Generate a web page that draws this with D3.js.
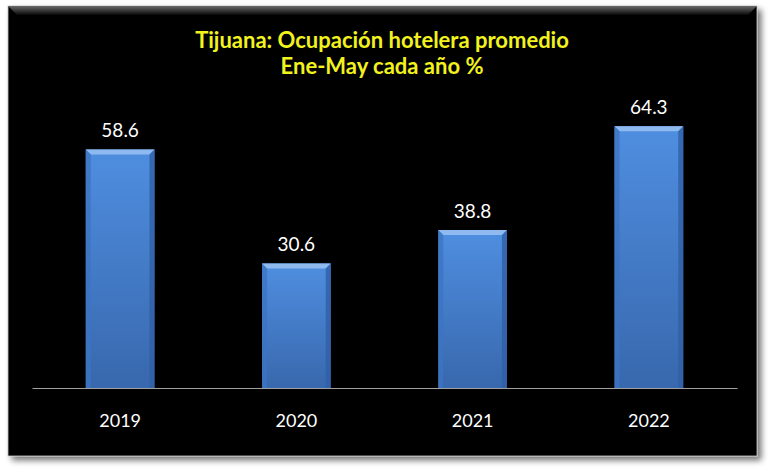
<!DOCTYPE html>
<html>
<head>
<meta charset="utf-8">
<script src="https://cdn.jsdelivr.net/npm/d3@7"></script>
<style>
  body { margin: 0; background: #ffffff; }
  svg { display: block; }
</style>
</head>
<body>
<svg id="chart"></svg>
<script>
// données du graphique
const years = ["2019", "2020", "2021", "2022"];
const occupancy = [58.6, 30.6, 38.8, 64.3];
const titleLines = ["Tijuana: Ocupación hotelera promedio", "Ene-May cada año %"];

const W = 768, H = 469;
const svg = d3.select("#chart").attr("width", W).attr("height", H);
const defs = svg.append("defs");

// ombre du cadre
const shadow = defs.append("filter").attr("id", "shadow")
    .attr("x", "-5%").attr("y", "-5%").attr("width", "115%").attr("height", "115%");
shadow.append("feGaussianBlur").attr("in", "SourceAlpha").attr("stdDeviation", 3);
shadow.append("feOffset").attr("dx", 4).attr("dy", 4).attr("result", "b");
shadow.append("feComponentTransfer").append("feFuncA").attr("type", "linear").attr("slope", 0.55);
const mrg = shadow.append("feMerge");
mrg.append("feMergeNode");
mrg.append("feMergeNode").attr("in", "SourceGraphic");

// dégradé biseau du haut du cadre
const topBevel = defs.append("linearGradient").attr("id", "topBevel")
    .attr("x1", 0).attr("y1", 0).attr("x2", 0).attr("y2", 1);
topBevel.append("stop").attr("offset", 0).attr("stop-color", "#6a6a6a");
topBevel.append("stop").attr("offset", 1).attr("stop-color", "#070707");

// dégradé des barres
const barGrad = defs.append("linearGradient").attr("id", "barGrad")
    .attr("x1", 0).attr("y1", 0).attr("x2", 0).attr("y2", 1);
barGrad.append("stop").attr("offset", 0).attr("stop-color", "#4f8ee0");
barGrad.append("stop").attr("offset", 1).attr("stop-color", "#3868ad");

// cadre noir
const frame = { x: 8, y: 6, w: 749, h: 450 };
svg.append("rect")
    .attr("x", frame.x).attr("y", frame.y)
    .attr("width", frame.w).attr("height", frame.h)
    .attr("fill", "#060606")
    .attr("stroke", "#bdbdbd").attr("stroke-width", 0.8)
    .attr("filter", "url(#shadow)");
svg.append("path")
    .attr("d", `M${frame.x},${frame.y} L${frame.x + frame.w},${frame.y} L${frame.x + frame.w - 9},${frame.y + 9} L${frame.x + 9},${frame.y + 9} Z`)
    .attr("fill", "url(#topBevel)");

const margin = { top: 103, left: 32, right: 31, bottom: 81 };
const width = W - margin.left - margin.right;
const height = H - margin.top - margin.bottom;

const g = svg.append("g").attr("transform", `translate(${margin.left},${margin.top})`);

const x = d3.scaleBand()
    .domain(years)
    .range([0, width])
    .paddingInner(0.61)
    .paddingOuter(0.305);

const y = d3.scaleLinear()
    .domain([0, 70])
    .range([height, 0]);

const data = years.map((yr, i) => ({ year: yr, value: occupancy[i] }));

const bars = g.selectAll(".bar")
    .data(data)
    .enter().append("g")
    .attr("class", "bar");

bars.append("rect")
    .attr("x", d => x(d.year))
    .attr("y", d => y(d.value))
    .attr("width", x.bandwidth())
    .attr("height", d => height - y(d.value))
    .attr("fill", "url(#barGrad)");

// biseau : bords gauche/droite plus sombres, haut plus clair
const bv = 5;
bars.append("path")
    .attr("d", d => {
        const x0 = x(d.year), x1 = x0 + x.bandwidth(), y0 = y(d.value);
        return `M${x0},${y0} L${x1},${y0} L${x1 - bv},${y0 + bv} L${x0 + bv},${y0 + bv} Z`;
    })
    .attr("fill", "#8fbaf0");
bars.append("path")
    .attr("d", d => {
        const x0 = x(d.year), y0 = y(d.value);
        return `M${x0},${y0} L${x0 + bv},${y0 + bv} L${x0 + bv},${height} L${x0},${height} Z`;
    })
    .attr("fill", "#3c74c2").attr("opacity", 0.8);
bars.append("path")
    .attr("d", d => {
        const x1 = x(d.year) + x.bandwidth(), y0 = y(d.value);
        return `M${x1},${y0} L${x1 - bv},${y0 + bv} L${x1 - bv},${height} L${x1},${height} Z`;
    })
    .attr("fill", "#2f5fa6").attr("opacity", 0.8);

// étiquettes de valeurs
g.selectAll(".val")
    .data(data)
    .enter().append("text")
    .attr("class", "val")
    .attr("x", d => x(d.year) + x.bandwidth() / 2)
    .attr("y", d => y(d.value) - 12)
    .attr("text-anchor", "middle")
    .attr("fill", "#ffffff")
    .style("font-family", "Lato, 'Open Sans', sans-serif")
    .style("font-size", "19px")
    .text(d => d.value.toFixed(1));

// axe X
const xAxis = g.append("g")
    .attr("transform", `translate(0,${height})`)
    .call(d3.axisBottom(x).tickSize(0).tickPadding(26));
xAxis.select(".domain").attr("stroke", "#a0a0a0").attr("stroke-width", 1.2);
xAxis.selectAll("text")
    .attr("fill", "#ffffff")
    .style("font-family", "Lato, 'Open Sans', sans-serif")
    .style("font-size", "18px");

// titre
svg.append("g").selectAll("text")
    .data(titleLines)
    .enter().append("text")
    .attr("x", 382)
    .attr("y", (d, i) => 48 + i * 26)
    .attr("text-anchor", "middle")
    .attr("fill", "#f2f21e")
    .style("font-family", "Lato, 'Open Sans', sans-serif")
    .style("font-weight", "bold")
    .style("font-size", "22px")
    .text(d => d);
</script>
</body>
</html>
